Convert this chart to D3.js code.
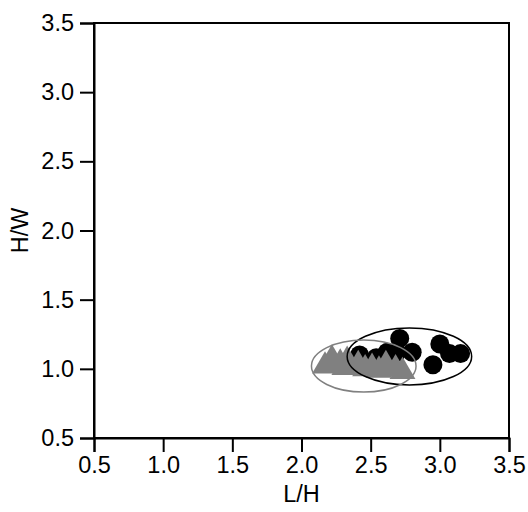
<!DOCTYPE html>
<meta charset="utf-8">
<style>
    body { margin: 0; background: #fff; }
    text { font-family: "Liberation Sans", Arial, sans-serif; }
</style>
<svg width="528" height="512"></svg>
<script src="https://cdn.jsdelivr.net/npm/d3@7"></script>
<script>

    // black group (circles)
    var circleX = [2.42, 2.54, 2.62, 2.71, 2.69, 2.80, 3.00, 3.07, 3.15, 2.95];
    var circleY = [1.10, 1.08, 1.12, 1.22, 1.12, 1.12, 1.18, 1.11, 1.11, 1.03];

    // gray group (triangles)
    var triX = [2.17, 2.22, 2.28, 2.33, 2.31, 2.41, 2.46, 2.51, 2.56, 2.61, 2.68, 2.73];
    var triY = [1.02, 1.07, 1.04, 1.06, 1.01, 1.03, 1.00, 1.01, 0.99, 1.03, 1.00, 0.98];

    // ellipses: [cx, cy, rx, ry]
    var ellipseBlack = [2.78, 1.09, 0.45, 0.206];
    var ellipseGray = [2.45, 1.02, 0.378, 0.188];

    var ticks = [0.5, 1.0, 1.5, 2.0, 2.5, 3.0, 3.5];

    var svg = d3.select("svg"),
        margin = {top: 23, right: 19, bottom: 74, left: 94},
        width = +svg.attr("width") - margin.left - margin.right,
        height = +svg.attr("height") - margin.top - margin.bottom;

    var g = svg.append("g")
        .attr("transform", "translate(" + margin.left + "," + margin.top + ")");

    var x = d3.scaleLinear().domain([0.5, 3.5]).range([0, width]);
    var y = d3.scaleLinear().domain([0.5, 3.5]).range([height, 0]);

    // frame
    g.append("rect")
        .attr("width", width)
        .attr("height", height)
        .attr("fill", "none")
        .attr("stroke", "#000")
        .attr("stroke-width", 2);

    var xAxis = g.append("g")
        .attr("transform", "translate(0," + height + ")")
        .call(d3.axisBottom(x).tickValues(ticks).tickFormat(d3.format(".1f")).tickSize(14).tickPadding(4));

    var yAxis = g.append("g")
        .call(d3.axisLeft(y).tickValues(ticks).tickFormat(d3.format(".1f")).tickSize(14).tickPadding(6));

    [xAxis, yAxis].forEach(function (a) {
        a.select(".domain").attr("stroke-width", 2);
        a.selectAll(".tick line").attr("stroke-width", 2);
        a.selectAll("text")
            .attr("font-size", 23.5)
            .attr("fill", "#000")
            .style("font-family", "Liberation Sans, Arial, sans-serif");
    });

    svg.append("text")
        .attr("x", margin.left + width / 2)
        .attr("y", 502)
        .attr("text-anchor", "middle")
        .attr("font-size", 23.5)
        .text("L/H");

    svg.append("text")
        .attr("transform", "translate(28," + (margin.top + height / 2) + ") rotate(-90)")
        .attr("text-anchor", "middle")
        .attr("font-size", 23.5)
        .text("H/W");

    // points
    g.selectAll("circle.pt")
        .data(circleX.map(function (d, i) { return [d, circleY[i]]; }))
        .enter().append("circle")
        .attr("class", "pt")
        .attr("cx", function (d) { return x(d[0]); })
        .attr("cy", function (d) { return y(d[1]); })
        .attr("r", 9.5)
        .attr("fill", "#000");

    var tri = d3.symbol().type(d3.symbolTriangle).size(290);

    g.selectAll("path.tri")
        .data(triX.map(function (d, i) { return [d, triY[i]]; }))
        .enter().append("path")
        .attr("class", "tri")
        .attr("d", tri)
        .attr("transform", function (d) { return "translate(" + x(d[0]) + "," + y(d[1]) + ")"; })
        .attr("fill", "#808080");

    // ellipses
    [[ellipseBlack, "#000"], [ellipseGray, "#808080"]].forEach(function (e) {
        var p = e[0];
        g.append("ellipse")
            .attr("cx", x(p[0]))
            .attr("cy", y(p[1]))
            .attr("rx", x(p[0] + p[2]) - x(p[0]))
            .attr("ry", y(p[1]) - y(p[1] + p[3]))
            .attr("fill", "none")
            .attr("stroke", e[1])
            .attr("stroke-width", 1.5);
    });

</script>
